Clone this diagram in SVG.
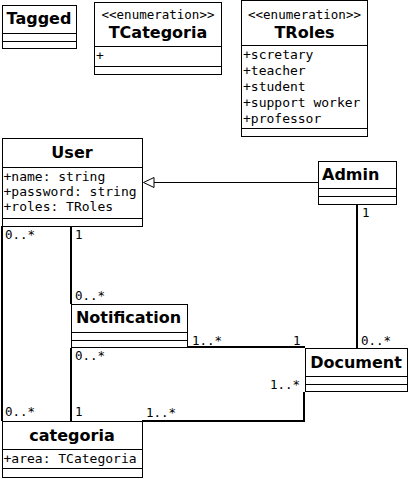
<svg xmlns="http://www.w3.org/2000/svg" width="409" height="479" viewBox="0 0 409 479">
<style>
.box{fill:#fff;stroke:#000;stroke-width:1}
.div{stroke:#000;stroke-width:1;fill:none}
.title{font-family:"DejaVu Sans",sans-serif;font-weight:bold;font-size:16px;fill:#000}
.mono{font-family:"DejaVu Sans Mono",monospace;font-size:13px;fill:#000}
.ster{font-family:"DejaVu Sans Mono",monospace;font-size:12.5px;fill:#000}
.mult{font-family:"DejaVu Sans Mono",monospace;font-size:12.5px;fill:#000}
.conn{stroke:#000;stroke-width:2;fill:none}
</style>
<rect width="409" height="479" fill="#fff"/>
<g id="connectors">
<path class="conn" d="M2 226V421"/>
<path class="conn" d="M71 226V304"/>
<path class="conn" d="M187 347H305"/>
<path class="conn" d="M71 348V421"/>
<path class="conn" d="M304 392V421H142"/>
<path class="conn" d="M357 204V348"/>
<path d="M318 182.5H154" stroke="#000" stroke-width="1" fill="none"/>
<polygon points="143.5,182.5 154,177.5 154,187.5" fill="#fff" stroke="#000" stroke-width="1"/>
<text class="mult" x="5" y="239">0..*</text>
<text class="mult" x="5" y="416">0..*</text>
<text class="mult" x="75" y="239">1</text>
<text class="mult" x="75" y="300">0..*</text>
<text class="mult" x="192" y="344.5">1..*</text>
<text class="mult" x="293" y="344.5">1</text>
<text class="mult" x="75" y="359.5">0..*</text>
<text class="mult" x="75" y="416">1</text>
<text class="mult" x="270" y="388.5">1..*</text>
<text class="mult" x="146" y="417">1..*</text>
<text class="mult" x="361" y="344.5">0..*</text>
<text class="mult" x="362" y="217">1</text>
</g>
<g id="Tagged">
<rect class="box" x="2.5" y="5.5" width="74" height="43"/>
<path class="div" d="M2.5 33.5H76.5M2.5 41.5H76.5"/>
<text class="title" x="39" y="24" text-anchor="middle">Tagged</text>
</g>
<g id="TCategoria">
<rect class="box" x="94.5" y="2.5" width="127" height="72"/>
<path class="div" d="M94.5 46.5H221.5M94.5 66.5H221.5"/>
<text class="ster" x="158" y="19" text-anchor="middle">&lt;&lt;enumeration&gt;&gt;</text>
<text class="title" x="158" y="37.5" text-anchor="middle">TCategoria</text>
<text class="mono" x="96" y="59.5">+</text>
</g>
<g id="TRoles">
<rect class="box" x="241.5" y="0.5" width="126" height="136"/>
<path class="div" d="M241.5 45.5H367.5M241.5 128.5H367.5"/>
<text class="ster" x="304.5" y="19" text-anchor="middle">&lt;&lt;enumeration&gt;&gt;</text>
<text class="title" x="304.5" y="37.5" text-anchor="middle">TRoles</text>
<text class="mono" x="243" y="58.5">+scretary</text>
<text class="mono" x="243" y="74.5">+teacher</text>
<text class="mono" x="243" y="90.5">+student</text>
<text class="mono" x="243" y="106.5">+support worker</text>
<text class="mono" x="243" y="122.5">+professor</text>
</g>
<g id="User">
<rect class="box" x="2.5" y="138.5" width="140" height="88"/>
<path class="div" d="M2.5 167.5H142.5M2.5 218.5H142.5"/>
<text class="title" x="72" y="157.5" text-anchor="middle">User</text>
<text class="mono" x="3.5" y="181">+name: string</text>
<text class="mono" x="3.5" y="196">+password: string</text>
<text class="mono" x="3.5" y="211">+roles: TRoles</text>
</g>
<g id="Admin">
<rect class="box" x="318.5" y="161.5" width="78" height="43"/>
<path class="div" d="M318.5 188.5H396.5M318.5 196.5H396.5"/>
<text class="title" x="322" y="180">Admin</text>
</g>
<g id="Notification">
<rect class="box" x="71.5" y="304.5" width="116" height="43"/>
<path class="div" d="M71.5 332.5H187.5M71.5 340.5H187.5"/>
<text class="title" x="128.5" y="323" text-anchor="middle">Notification</text>
</g>
<g id="Document">
<rect class="box" x="305.5" y="348.5" width="102" height="43"/>
<path class="div" d="M305.5 376.5H407.5M305.5 384.5H407.5"/>
<text class="title" x="356" y="367.5" text-anchor="middle">Document</text>
</g>
<g id="categoria">
<rect class="box" x="2.5" y="421.5" width="140" height="56"/>
<path class="div" d="M2.5 449.5H142.5M2.5 468.5H142.5"/>
<text class="title" x="72" y="441" text-anchor="middle">categoria</text>
<text class="mono" x="3.5" y="462.5">+area: TCategoria</text>
</g>
</svg>
